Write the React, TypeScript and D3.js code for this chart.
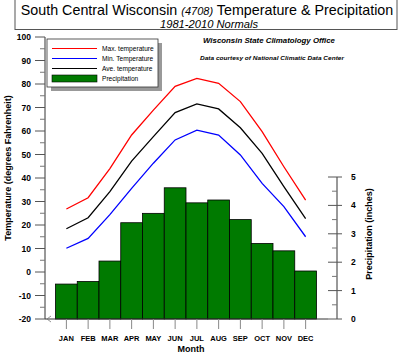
import React from "react";
import * as d3 from "d3";

// monthly normals, South Central Wisconsin (4708), 1981-2010
const months = ["JAN", "FEB", "MAR", "APR", "MAY", "JUN", "JUL", "AUG", "SEP", "OCT", "NOV", "DEC"];
const maxTemp = [26.8, 31.6, 44.0, 58.3, 68.9, 79.0, 82.4, 80.3, 72.5, 59.7, 44.8, 30.6];
const aveTemp = [18.4, 23.1, 34.2, 47.2, 57.6, 67.8, 71.5, 69.4, 61.4, 50.5, 36.3, 22.7];
const minTemp = [10.1, 14.3, 24.4, 35.6, 46.3, 56.2, 60.4, 58.3, 49.8, 37.7, 27.8, 15.0];
const precip = [1.23, 1.32, 2.04, 3.39, 3.72, 4.62, 4.09, 4.19, 3.5, 2.66, 2.4, 1.69];
const tempTicks = [-20, -10, 0, 10, 20, 30, 40, 50, 60, 70, 80, 90, 100];
const precipTicks = [0, 1, 2, 3, 4, 5];

const legendItems = [
  { label: "Max. temperature", color: "#ff0000", type: "line" },
  { label: "Min. Temperature", color: "#0000ff", type: "line" },
  { label: "Ave. temperature", color: "#000000", type: "line" },
  { label: "Precipitation", color: "#007a00", type: "bar" },
];

const font = "'Liberation Sans', Arial, sans-serif";

export default function App() {
  const W = 400;
  const H = 354;
  const axisX = 45;
  const rightX = 337;
  const baseY = 319;

  const x = d3.scaleBand().domain(months).range([55.5, 316.5]).paddingInner(0).paddingOuter(0);
  const y = d3.scaleLinear().domain([-20, 100]).range([baseY, 37]);
  const yP = d3.scaleLinear().domain([0, 5]).range([baseY, 177]);
  const cx = (m: string) => (x(m) as number) + x.bandwidth() / 2;

  const line = d3
    .line<number>()
    .x((_, i) => cx(months[i]))
    .y((d) => y(d));

  const tempMinor = d3.range(-15, 100, 10);
  const precipMinor = d3.range(0.5, 5, 1);

  return (
    <svg width={W} height={H} style={{ position: "absolute", left: 0, top: 0, background: "#fff" }} fontFamily={font}>
      {/* title box */}
      <rect x={15} y={-2} width={382} height={31.5} fill="#fff" stroke="#555" strokeWidth={1} />
      <text x={207} y={15} textAnchor="middle" fontSize={14.3}>
        South Central Wisconsin{" "}
        <tspan fontStyle="italic" fontSize={11}>(4708)</tspan> Temperature &amp; Precipitation
      </text>
      <text x={160} y={27.5} fontSize={10} fontStyle="italic" textLength={98} lengthAdjust="spacingAndGlyphs">
        1981-2010 Normals
      </text>

      <text x={203} y={43} fontSize={7.6} fontWeight="bold" fontStyle="italic" textLength={132} lengthAdjust="spacingAndGlyphs">
        Wisconsin State Climatology Office
      </text>
      <text x={200} y={60} fontSize={6} fontWeight="bold" fontStyle="italic" textLength={144} lengthAdjust="spacingAndGlyphs">
        Data courtesy of National Climatic Data Center
      </text>

      {/* precipitation bars */}
      {precip.map((p, i) => (
        <rect
          key={months[i]}
          x={x(months[i])}
          y={yP(p)}
          width={x.bandwidth()}
          height={baseY - yP(p)}
          fill="#007a00"
          stroke="#000"
          strokeWidth={0.8}
        />
      ))}

      {/* temperature lines */}
      <path d={line(maxTemp) ?? ""} fill="none" stroke="#ff0000" strokeWidth={1.3} />
      <path d={line(aveTemp) ?? ""} fill="none" stroke="#000" strokeWidth={1.3} />
      <path d={line(minTemp) ?? ""} fill="none" stroke="#0000ff" strokeWidth={1.3} />

      {/* left axis */}
      <line x1={axisX} x2={axisX} y1={y(100)} y2={baseY} stroke="#333" />
      {tempTicks.map((t) => (
        <g key={t}>
          <line x1={axisX - 10} x2={axisX} y1={y(t)} y2={y(t)} stroke="#555" />
          <text x={31} y={y(t) + 3} textAnchor="end" fontSize={8.5} fontWeight="bold">
            {t}
          </text>
        </g>
      ))}
      {tempMinor.map((t) => (
        <line key={t} x1={axisX - 5} x2={axisX} y1={y(t)} y2={y(t)} stroke="#777" />
      ))}
      <text
        transform={`translate(11,168) rotate(-90)`}
        textAnchor="middle"
        fontSize={9}
        fontWeight="bold"
      >
        Temperature (degrees Fahrenheit)
      </text>

      {/* bottom axis */}
      <line x1={axisX} x2={328} y1={baseY} y2={baseY} stroke="#333" />
      <path d={`M${axisX + 6},${baseY - 3}L${axisX + 2},${baseY}L${axisX + 6},${baseY + 3}`} fill="none" stroke="#777" strokeWidth={0.8} />
      {months.map((m) => (
        <g key={m}>
          <line x1={cx(m)} x2={cx(m)} y1={baseY} y2={baseY + 10} stroke="#888" />
          <text x={cx(m)} y={341} textAnchor="middle" fontSize={7.5} fontWeight="bold">
            {m}
          </text>
        </g>
      ))}
      <text x={191} y={352} textAnchor="middle" fontSize={9} fontWeight="bold">
        Month
      </text>

      {/* right axis */}
      <line x1={rightX} x2={rightX} y1={yP(5)} y2={baseY} stroke="#333" />
      {precipTicks.map((p) => (
        <g key={p}>
          <line x1={rightX - 9} x2={rightX + 5} y1={yP(p)} y2={yP(p)} stroke="#555" />
          <text x={351} y={yP(p) + 3} fontSize={8.5} fontWeight="bold">
            {p}
          </text>
        </g>
      ))}
      {precipMinor.map((p) => (
        <line key={p} x1={rightX - 5} x2={rightX} y1={yP(p)} y2={yP(p)} stroke="#777" />
      ))}
      <text
        transform={`translate(372,234) rotate(-90)`}
        textAnchor="middle"
        fontSize={9}
        fontWeight="bold"
      >
        Precipitation (inches)
      </text>

      {/* legend */}
      <rect x={51} y={43} width={111} height={48} fill="#999" />
      <rect x={47} y={39} width={111} height={48} fill="#fff" stroke="#333" strokeWidth={0.8} />
      {legendItems.map((d, i) => {
        const ly = 48.5 + i * 10;
        return (
          <g key={d.label}>
            {d.type === "line" ? (
              <line x1={52} x2={97} y1={ly} y2={ly} stroke={d.color} strokeWidth={1.2} />
            ) : (
              <rect x={52} y={ly - 3.5} width={45} height={7} fill={d.color} stroke="#000" strokeWidth={0.6} />
            )}
            <text x={102} y={ly + 2.2} fontSize={6.6}>
              {d.label}
            </text>
          </g>
        );
      })}
    </svg>
  );
}
